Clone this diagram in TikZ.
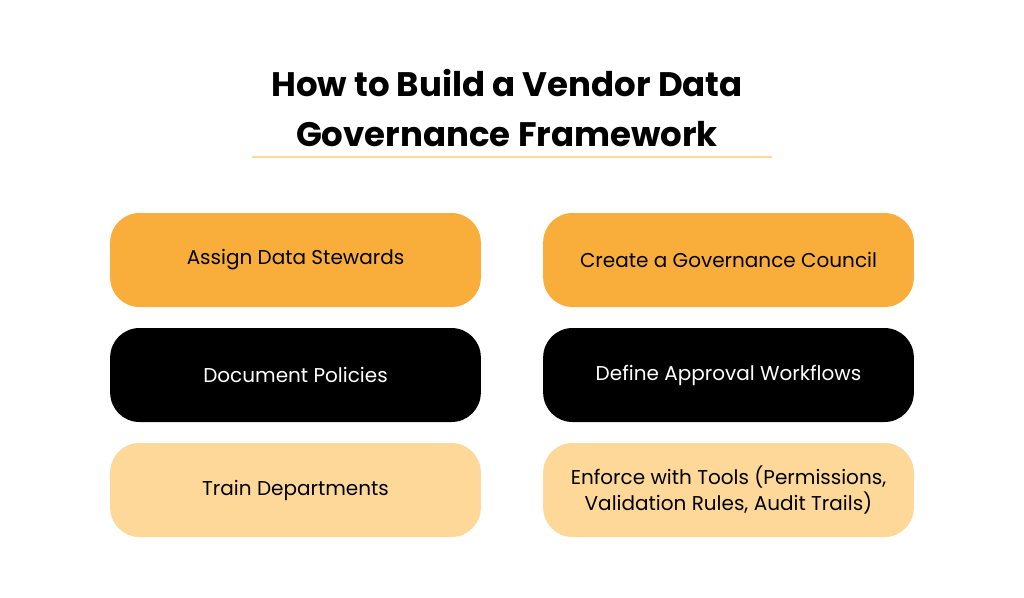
\documentclass[tikz,border=0pt]{standalone}
\usepackage{fontspec}
\setmainfont{Poppins}
\definecolor{orng}{HTML}{F9AE3B}
\definecolor{lorng}{HTML}{FDD898}
\begin{document}
\begin{tikzpicture}[x=0.75pt,y=-0.75pt,
  box/.style={rounded corners=22pt,minimum width=278pt,minimum height=70.5pt,inner sep=0pt,font=\fontsize{15}{19}\selectfont,align=center},
  ttl/.style={font=\fontsize{25.5}{38}\selectfont\bfseries,align=center}]
\useasboundingbox[fill=white] (0,0) rectangle (1024,597);
\node[ttl] (t) at (507,108) {How to Build a Vendor Data\\Governance Framework};
\coordinate (ua) at (252,157); \coordinate (ub) at (772,157);
\draw[lorng,line width=2.2pt] (ua) -- (ub);
\node[box,fill=orng] (a) at (295.5,260) {Assign Data Stewards};
\node[box,fill=orng] (b) at (728.5,260) {Create a Governance Council};
\node[box,fill=black,text=white] (c) at (295.5,375) {Document Policies};
\node[box,fill=black,text=white] (d) at (728.5,375) {Define Approval Workflows};
\node[box,fill=lorng] (e) at (295.5,490) {Train Departments};
\node[box,fill=lorng] (f) at (728.5,490) {Enforce with Tools (Permissions,\\Validation Rules, Audit Trails)};
\end{tikzpicture}
\end{document}
